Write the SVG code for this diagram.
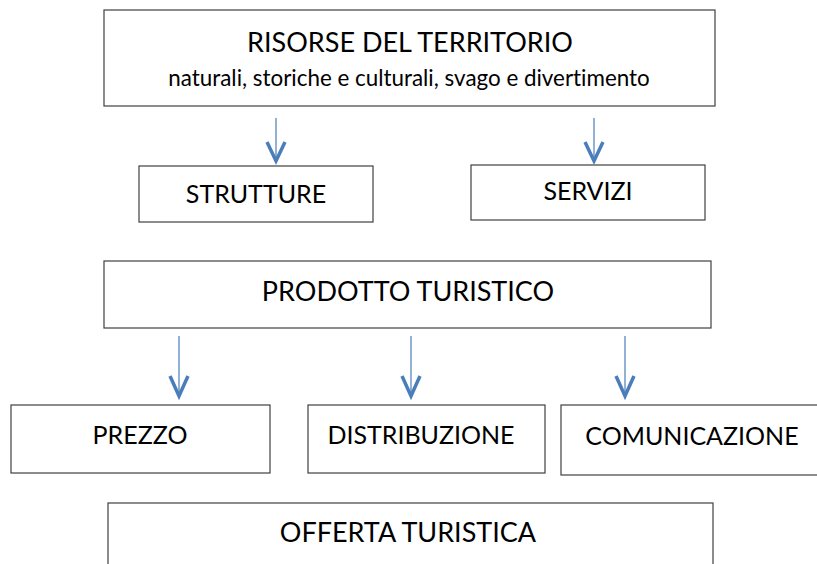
<svg xmlns="http://www.w3.org/2000/svg" width="817" height="564" viewBox="0 0 817 564">
<style>
.box{fill:#fff;stroke:#404040;stroke-width:1.2}
.t{font-family:Lato,"Open Sans",sans-serif;fill:#000;text-anchor:middle;font-variant-ligatures:none;font-feature-settings:"liga" 0,"dlig" 0}
.ln{stroke:#4a7ebb;stroke-width:1.2;fill:none}
.hd{stroke:#4a7ebb;stroke-width:3.5;fill:none}
</style>
<rect width="817" height="564" fill="#fff"/>
<g id="risorse"><rect class="box" x="104" y="10" width="611" height="96"/>
<text class="t" x="410" y="52" font-size="27">RISORSE DEL TERRITORIO</text>
<text class="t" x="409" y="86" font-size="22.4">naturali, storiche e culturali, svago e divertimento</text></g>
<g id="strutture"><rect class="box" x="139" y="166" width="234" height="56"/>
<text class="t" x="256" y="203" font-size="25">STRUTTURE</text></g>
<g id="servizi"><rect class="box" x="471" y="165" width="234" height="55"/>
<text class="t" x="588" y="200" font-size="25">SERVIZI</text></g>
<g id="prodotto"><rect class="box" x="104" y="261" width="607" height="67"/>
<text class="t" x="408" y="301" font-size="27">PRODOTTO TURISTICO</text></g>
<g id="prezzo"><rect class="box" x="11" y="405" width="259" height="68"/>
<text class="t" x="140" y="444" font-size="25">PREZZO</text></g>
<g id="distribuzione"><rect class="box" x="308" y="405" width="237" height="68"/>
<text class="t" x="421" y="444" font-size="25">DISTRIBUZIONE</text></g>
<g id="comunicazione"><rect class="box" x="561" y="405" width="260" height="70"/>
<text class="t" x="692" y="445" font-size="25">COMUNICAZIONE</text></g>
<g id="offerta"><rect class="box" x="108" y="503" width="605" height="70"/>
<text class="t" x="408" y="542" font-size="27">OFFERTA TURISTICA</text></g>
<g id="connectors">
<path class="ln" d="M276 118V160"/><path class="hd" d="M267 142L276 161L285 142"/>
<path class="ln" d="M594 118V160"/><path class="hd" d="M585 142L594 161L603 142"/>
<path class="ln" d="M179 336V395"/><path class="hd" d="M170 376L179 396L188 376"/>
<path class="ln" d="M411 336V395"/><path class="hd" d="M402 376L411 396L420 376"/>
<path class="ln" d="M625 336V395"/><path class="hd" d="M616 376L625 396L634 376"/>
</g>
</svg>
